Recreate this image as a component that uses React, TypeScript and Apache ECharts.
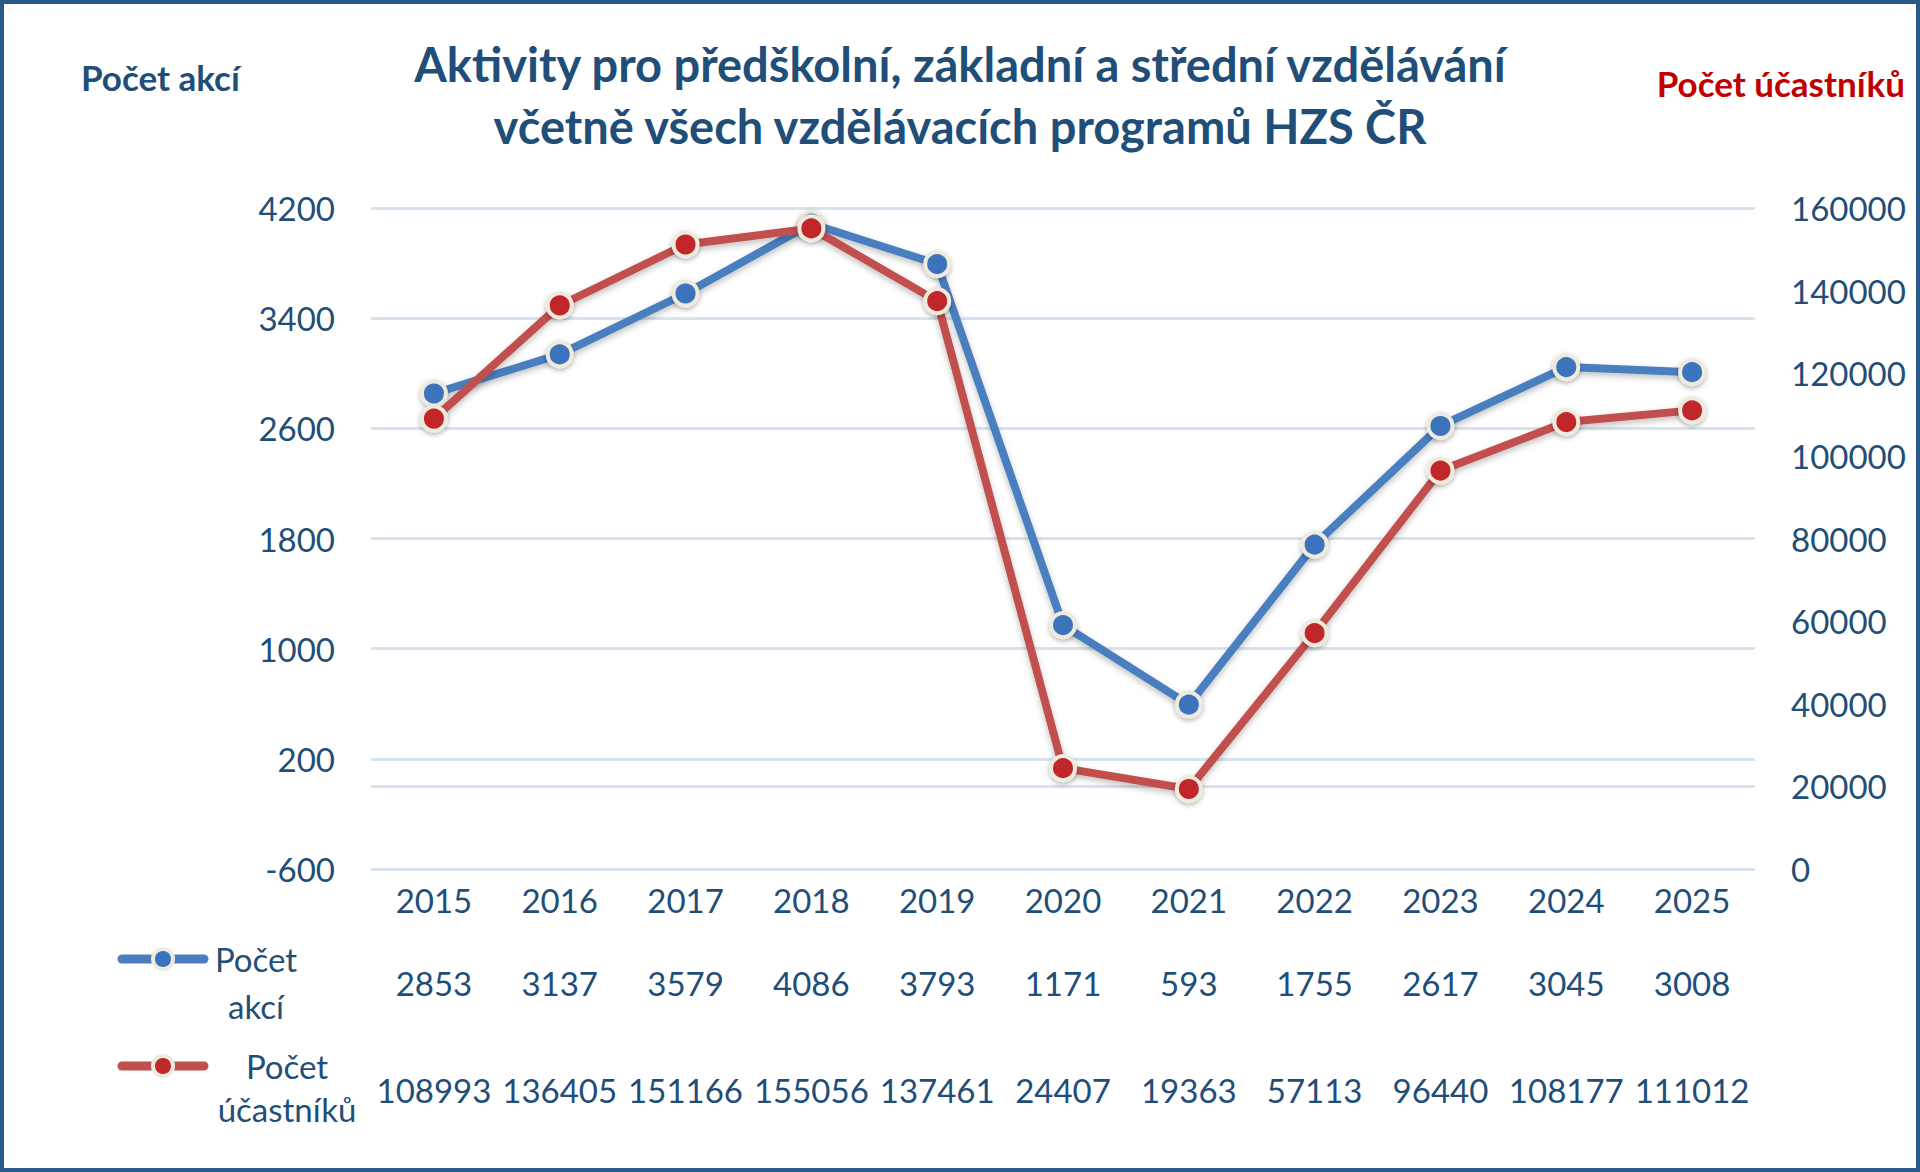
import React, { useEffect, useRef } from "react";
import * as echarts from "echarts";

const years = ["2015", "2016", "2017", "2018", "2019", "2020", "2021", "2022", "2023", "2024", "2025"];
const pocetAkci = [2853, 3137, 3579, 4086, 3793, 1171, 593, 1755, 2617, 3045, 3008];
const pocetUcastniku = [108993, 136405, 151166, 155056, 137461, 24407, 19363, 57113, 96440, 108177, 111012];

const leftMin = -600;
const leftMax = 4200;
const leftInterval = 800;
const rightMin = 0;
const rightMax = 160000;
const rightInterval = 20000;
const rightExtraGridValue = 20000;

const titleLines = [
  "Aktivity pro předškolní, základní a střední vzdělávání",
  "včetně všech vzdělávacích programů HZS ČR",
];
const leftAxisName = "Počet akcí";
const rightAxisName = "Počet účastníků";

const FONT = "Lato, 'Open Sans', sans-serif";
const DARK = "#1F4E79";
const BLUE_LINE = "#4A7EBF";
const BLUE_DOT = "#3A73BD";
const RED_LINE = "#C0504D";
const RED_DOT = "#C0282A";
const GRID = "#D6E3F1";
const BORDER_DOT = "#EEEADD";

export default function App() {
  const ref = useRef<HTMLDivElement>(null);

  useEffect(() => {
    if (!ref.current) return;
    const chart = echarts.init(ref.current, null, { renderer: "svg" });

    const tickLabel = {
      color: DARK,
      fontFamily: FONT,
      fontSize: 33,
    };

    const hiddenAxis = {
      axisLine: { show: false },
      axisTick: { show: false },
      splitLine: { show: false },
    };

    const legendKey = (y: number, lineColor: string, dotColor: string) => [
      {
        type: "line",
        shape: { x1: 122, y1: y, x2: 204, y2: y },
        style: { stroke: lineColor, lineWidth: 9, lineCap: "round" },
      },
      {
        type: "circle",
        shape: { cx: 163, cy: y, r: 10 },
        style: { fill: dotColor, stroke: BORDER_DOT, lineWidth: 4 },
      },
    ];

    const centeredText = (text: string, x: number, y: number, font: string, fill: string) => ({
      type: "text",
      x,
      y,
      style: {
        text,
        fill,
        font,
        align: "center",
        verticalAlign: "middle",
      },
    });

    chart.setOption({
      animation: false,
      backgroundColor: "#ffffff",
      grid: { left: 371, right: 165, top: 208, bottom: 303, containLabel: false },
      xAxis: [
        {
          type: "category",
          data: years,
          boundaryGap: true,
          ...hiddenAxis,
          axisLabel: { ...tickLabel, margin: 14, interval: 0 },
        },
        {
          type: "category",
          data: pocetAkci.map(String),
          position: "bottom",
          offset: 83,
          boundaryGap: true,
          ...hiddenAxis,
          axisLabel: { ...tickLabel, margin: 14, interval: 0, hideOverlap: false },
        },
        {
          type: "category",
          data: pocetUcastniku.map(String),
          position: "bottom",
          offset: 190,
          boundaryGap: true,
          ...hiddenAxis,
          axisLabel: { ...tickLabel, margin: 14, interval: 0, hideOverlap: false },
        },
      ],
      yAxis: [
        {
          type: "value",
          min: leftMin,
          max: leftMax,
          interval: leftInterval,
          position: "left",
          axisLine: { show: false },
          axisTick: { show: false },
          splitLine: { show: true, lineStyle: { color: GRID, width: 3 } },
          axisLabel: { ...tickLabel, margin: 36, formatter: (v: number) => String(v) },
        },
        {
          type: "value",
          min: rightMin,
          max: rightMax,
          interval: rightInterval,
          position: "right",
          axisLine: { show: false },
          axisTick: { show: false },
          splitLine: { show: false },
          axisLabel: { ...tickLabel, margin: 36, formatter: (v: number) => String(v) },
        },
      ],
      series: [
        {
          name: leftAxisName,
          type: "line",
          xAxisIndex: 0,
          yAxisIndex: 0,
          data: pocetAkci,
          symbol: "circle",
          symbolSize: 24,
          lineStyle: {
            color: BLUE_LINE,
            width: 8,
            shadowColor: "rgba(0,0,0,0.25)",
            shadowBlur: 6,
            shadowOffsetY: 3,
          },
          itemStyle: {
            color: BLUE_DOT,
            borderColor: BORDER_DOT,
            borderWidth: 4,
            shadowColor: "rgba(0,0,0,0.3)",
            shadowBlur: 5,
            shadowOffsetY: 2,
          },
          z: 3,
        },
        {
          name: rightAxisName,
          type: "line",
          xAxisIndex: 0,
          yAxisIndex: 1,
          data: pocetUcastniku,
          symbol: "circle",
          symbolSize: 24,
          lineStyle: {
            color: RED_LINE,
            width: 8,
            shadowColor: "rgba(0,0,0,0.25)",
            shadowBlur: 6,
            shadowOffsetY: 3,
          },
          itemStyle: {
            color: RED_DOT,
            borderColor: BORDER_DOT,
            borderWidth: 4,
            shadowColor: "rgba(0,0,0,0.3)",
            shadowBlur: 5,
            shadowOffsetY: 2,
          },
          z: 4,
          markLine: {
            silent: true,
            symbol: "none",
            label: { show: false },
            lineStyle: { color: GRID, width: 3, type: "solid" },
            data: [{ yAxis: rightExtraGridValue }],
            z: 1,
          },
        },
      ],
      graphic: [
        {
          type: "rect",
          shape: { x: 2, y: 2, width: 1916, height: 1168 },
          style: { fill: "none", stroke: "#2A5A8C", lineWidth: 4 },
          silent: true,
        },
        centeredText(titleLines[0], 960, 64, `bold 47px ${FONT}`, DARK),
        centeredText(titleLines[1], 960, 126, `bold 47px ${FONT}`, DARK),
        {
          type: "text",
          x: 81,
          y: 77,
          style: {
            text: leftAxisName,
            fill: DARK,
            font: `bold 35px ${FONT}`,
            align: "left",
            verticalAlign: "middle",
          },
        },
        {
          type: "text",
          x: 1905,
          y: 83,
          style: {
            text: rightAxisName,
            fill: "#C00000",
            font: `bold 35px ${FONT}`,
            align: "right",
            verticalAlign: "middle",
          },
        },
        ...legendKey(959, BLUE_LINE, BLUE_DOT),
        ...legendKey(1066, RED_LINE, RED_DOT),
        centeredText("Počet", 256, 959, `33px ${FONT}`, DARK),
        centeredText("akcí", 256, 1006, `33px ${FONT}`, DARK),
        centeredText("Počet", 287, 1066, `33px ${FONT}`, DARK),
        centeredText("účastníků", 287, 1109, `33px ${FONT}`, DARK),
      ],
    });

    return () => chart.dispose();
  }, []);

  return (
    <div
      ref={ref}
      style={{ position: "fixed", left: 0, top: 0, width: 1920, height: 1172, background: "#fff" }}
    />
  );
}
